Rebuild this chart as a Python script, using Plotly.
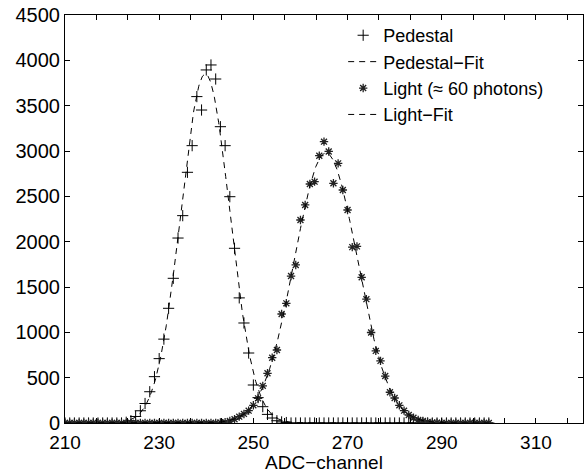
import numpy as np
import plotly.graph_objects as go

# ADC channels of the histogram bins
channels = list(range(210, 301))

# Pedestal counts per channel (210..300)
pedestal_counts = (
    [0] * 13 +                                   # 210-222
    [8, 25, 72, 135, 215, 345, 511, 710, 925,    # 223-231
     1265, 1596, 2040, 2287, 2765, 3059, 3600,   # 232-238
     3452, 3894, 3949, 3794, 3268, 3059, 2496,   # 239-245
     1927, 1380, 1103, 772, 419, 280, 180, 95,   # 246-253
     55, 25, 12, 5] +                            # 254-257
    [0] * 43                                     # 258-300
)

# Light counts per channel (210..300)
light_counts = (
    [0] * 33 +                                   # 210-242
    [5, 10, 22, 41, 70, 100, 136, 195, 272,      # 243-251
     410, 548, 720, 805, 1202, 1320, 1621,       # 252-258
     1743, 2239, 2405, 2636, 2662, 2948, 3103,   # 259-265
     2995, 2644, 2864, 2570, 2349, 1940, 1948,   # 266-272
     1607, 1366, 998, 795, 685, 518, 339, 276,   # 273-280
     195, 136, 88, 58, 33, 22, 12, 6, 3] +       # 281-289
    [0] * 11                                     # 290-300
)

# Axis tick labels
x_ticks = list(range(210, 311, 20))
y_ticks = list(range(0, 4501, 500))

legend_names = ["Pedestal", "Pedestal\u2212Fit", "Light (\u2248 60 photons)", "Light\u2212Fit"]


def gauss_fit(x, y):
    """Gaussian fit through a weighted quadratic fit of log(counts)."""
    x = np.asarray(x, float)
    y = np.asarray(y, float)
    m = y > 0.03 * y.max()
    a, b, c = np.polyfit(x[m], np.log(y[m]), 2, w=np.sqrt(y[m]))
    mu = -b / (2 * a)
    sigma = np.sqrt(-1 / (2 * a))
    amp = np.exp(c - b * b / (4 * a))
    return amp, mu, sigma


xf = np.linspace(210, 300, 721)
ped_p = gauss_fit(channels, pedestal_counts)
light_p = gauss_fit(channels, light_counts)
ped_fit = ped_p[0] * np.exp(-(xf - ped_p[1]) ** 2 / (2 * ped_p[2] ** 2))
light_fit = light_p[0] * np.exp(-(xf - light_p[1]) ** 2 / (2 * light_p[2] ** 2))

FONT = "Liberation Sans, Arial, sans-serif"

fig = go.Figure()
fig.add_trace(go.Scatter(
    x=channels, y=pedestal_counts, mode="markers", name=legend_names[0],
    marker=dict(symbol="cross-thin-open", size=8, color="black",
                line=dict(width=1, color="black")),
))
fig.add_trace(go.Scatter(
    x=xf, y=ped_fit, mode="lines", name=legend_names[1],
    line=dict(color="black", width=1, dash="6px,5px"),
))
fig.add_trace(go.Scatter(
    x=channels, y=light_counts, mode="markers", name=legend_names[2],
    marker=dict(symbol="asterisk-open", size=7, color="#222",
                line=dict(width=1.3, color="#222")),
))
fig.add_trace(go.Scatter(
    x=xf, y=light_fit, mode="lines", name=legend_names[3],
    line=dict(color="black", width=1, dash="6px,5px"),
))

axis_common = dict(
    showline=True, linecolor="black", linewidth=1, mirror="allticks",
    ticks="inside", ticklen=5, tickcolor="black", tickwidth=1,
    showgrid=False, zeroline=False,
)

fig.update_xaxes(range=[210, 320], tickvals=x_ticks,
                 tickfont=dict(family=FONT, size=19, color="black"),
                 minor=dict(tick0=210, dtick=20 / 3, ticks="inside", ticklen=5,
                            tickcolor="black", tickwidth=1, showgrid=False),
                 title=dict(text="ADC\u2212channel", standoff=0,
                            font=dict(family=FONT, size=19, color="black")),
                 ticklabelstandoff=2, **axis_common)
fig.update_yaxes(range=[0, 4500], tickvals=y_ticks,
                 tickfont=dict(family=FONT, size=20, color="black"),
                 **axis_common)

fig.update_layout(
    width=585, height=473,
    margin=dict(l=65, r=2, t=15, b=50),
    paper_bgcolor="white", plot_bgcolor="white",
    font=dict(family=FONT, size=20, color="black"),
    legend=dict(x=0.537, y=0.995, xanchor="left", yanchor="top",
                bgcolor="rgba(0,0,0,0)", borderwidth=0,
                font=dict(family=FONT, size=18), itemwidth=30, tracegroupgap=0),
    showlegend=True,
)

fig.write_html("out.html")
